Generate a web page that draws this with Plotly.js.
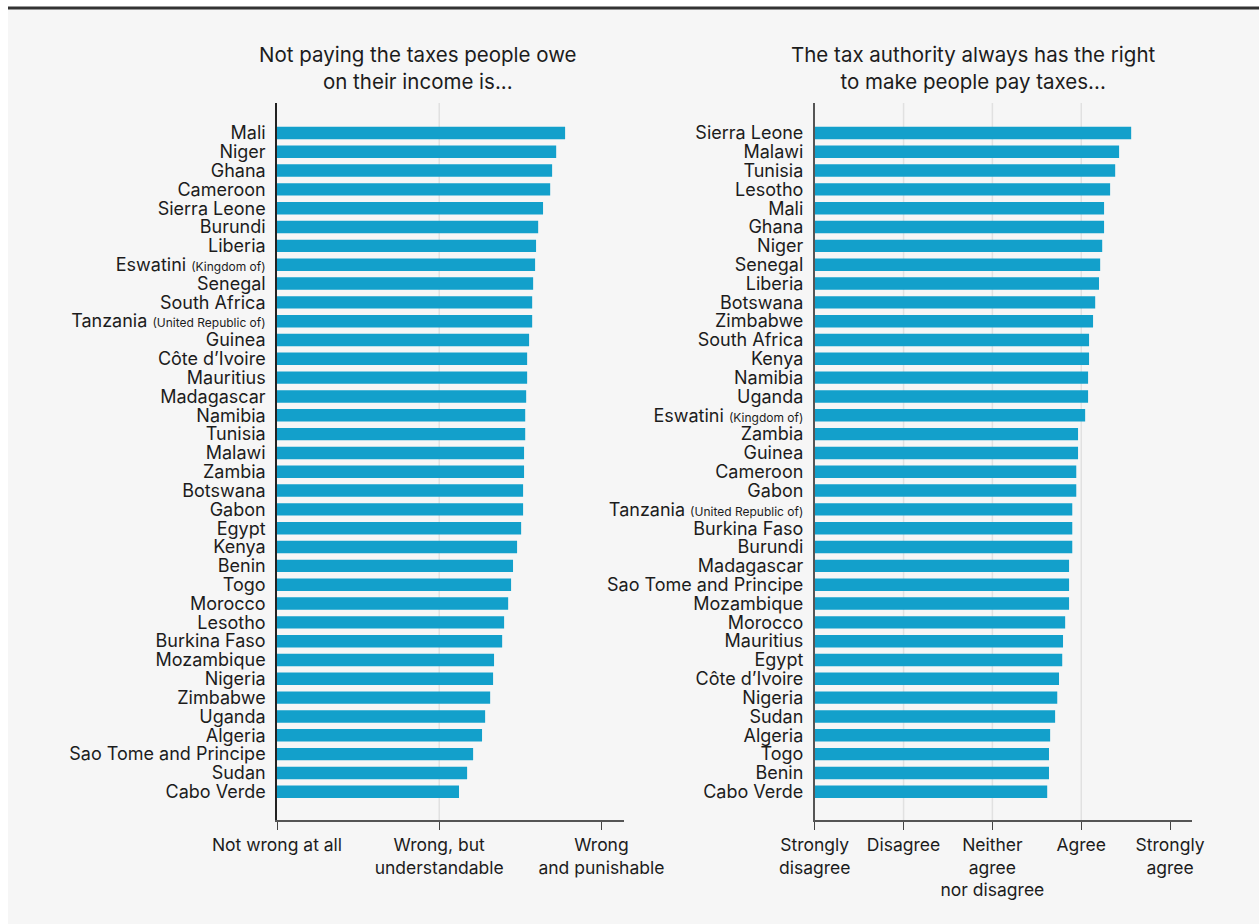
<!DOCTYPE html>
<html>
<head>
<meta charset="utf-8">
<script src="https://cdn.plot.ly/plotly-3.0.1.min.js"></script>
<style>
  html, body { margin: 0; padding: 0; background: #ffffff; }
  #chart { width: 1259px; height: 924px; }
</style>
</head>
<body>
<div id="chart"></div>
<script>
// ---- Data ----
const leftCountries = ["Mali","Niger","Ghana","Cameroon","Sierra Leone","Burundi","Liberia","Eswatini (Kingdom of)","Senegal","South Africa","Tanzania (United Republic of)","Guinea","Côte d’Ivoire","Mauritius","Madagascar","Namibia","Tunisia","Malawi","Zambia","Botswana","Gabon","Egypt","Kenya","Benin","Togo","Morocco","Lesotho","Burkina Faso","Mozambique","Nigeria","Zimbabwe","Uganda","Algeria","Sao Tome and Principe","Sudan","Cabo Verde"];
const leftValues = [1.776,1.721,1.696,1.684,1.640,1.610,1.597,1.591,1.579,1.573,1.573,1.554,1.542,1.542,1.536,1.530,1.530,1.523,1.523,1.517,1.517,1.505,1.480,1.455,1.443,1.425,1.400,1.388,1.338,1.332,1.314,1.283,1.264,1.209,1.172,1.122];

const rightCountries = ["Sierra Leone","Malawi","Tunisia","Lesotho","Mali","Ghana","Niger","Senegal","Liberia","Botswana","Zimbabwe","South Africa","Kenya","Namibia","Uganda","Eswatini (Kingdom of)","Zambia","Guinea","Cameroon","Gabon","Tanzania (United Republic of)","Burkina Faso","Burundi","Madagascar","Sao Tome and Principe","Mozambique","Morocco","Mauritius","Egypt","Côte d’Ivoire","Nigeria","Sudan","Algeria","Togo","Benin","Cabo Verde"];
const rightValues = [4.562,4.426,4.382,4.325,4.257,4.257,4.236,4.213,4.200,4.157,4.133,4.088,4.088,4.077,4.077,4.044,3.964,3.964,3.944,3.944,3.899,3.899,3.899,3.863,3.863,3.863,3.819,3.795,3.786,3.750,3.730,3.706,3.650,3.637,3.637,3.617];

const leftTickVals = [0, 1, 2];
const leftTickText = ["Not wrong at all", "Wrong, but<br>understandable", "Wrong<br>and punishable"];
const rightTickVals = [1, 2, 3, 4, 5];
const rightTickText = ["Strongly<br>disagree", "Disagree", "Neither<br>agree<br>nor disagree", "Agree", "Strongly<br>agree"];

const leftTitle = "Not paying the taxes people owe<br>on their income is...";
const rightTitle = "The tax authority always has the right<br>to make people pay taxes...";

// ---- Helpers ----
function labelHTML(name) {
  const m = name.match(/^(.*?) (\(.*\))$/);
  if (m) return m[1] + ' <span style="font-size:12px">' + m[2] + '</span>';
  return name;
}

const W = 1259, H = 924;
const T = 103, B = 104;
const plotH = H - T - B;
function py(p) { return (H - B - p) / plotH; }
function px(p) { return p / W; }

const barColor = "#13a0cb";
const textColor = "#1c1c1c";
const font = "Inter, Lato, sans-serif";

const traces = [
  {
    type: "bar", orientation: "h",
    x: leftValues, y: leftCountries,
    xaxis: "x", yaxis: "y",
    marker: { color: barColor },
    hoverinfo: "x+y"
  },
  {
    type: "bar", orientation: "h",
    x: rightValues, y: rightCountries,
    xaxis: "x2", yaxis: "y2",
    marker: { color: barColor },
    hoverinfo: "x+y"
  }
];

const yRange = [36.5, -1.59];

const layout = {
  width: W, height: H,
  margin: { l: 0, r: 0, t: T, b: B, pad: 0 },
  paper_bgcolor: "#f6f6f6",
  plot_bgcolor: "rgba(0,0,0,0)",
  showlegend: false,
  bargap: 0.34,
  font: { family: font, color: textColor, size: 17 },
  xaxis: {
    domain: [px(277), px(623.5)],
    range: [0, 2.136],
    tickmode: "array", tickvals: leftTickVals, ticktext: leftTickText,
    tickangle: 0,
    ticks: "outside", ticklen: 8, tickcolor: "#444", tickwidth: 1,
    showline: true, linecolor: "#555", linewidth: 1.5,
    showgrid: false, zeroline: false,
    tickfont: { size: 17.5, family: font, color: textColor },
    fixedrange: true
  },
  yaxis: {
    domain: [0, 1],
    type: "category",
    categoryorder: "array", categoryarray: leftCountries,
    range: yRange,
    tickmode: "array", tickvals: leftCountries, ticktext: leftCountries.map(labelHTML),
    ticks: "", showline: true, linecolor: "#222", linewidth: 1.5,
    showgrid: false, zeroline: false,
    ticklabelstandoff: 6,
    tickfont: { size: 18, family: font, color: textColor },
    fixedrange: true
  },
  xaxis2: {
    domain: [px(814.7), px(1192.3)],
    range: [1, 5.25],
    anchor: "y2",
    tickmode: "array", tickvals: rightTickVals, ticktext: rightTickText,
    tickangle: 0,
    ticks: "outside", ticklen: 8, tickcolor: "#444", tickwidth: 1,
    showline: true, linecolor: "#555", linewidth: 1.5,
    showgrid: false, zeroline: false,
    tickfont: { size: 17.5, family: font, color: textColor },
    fixedrange: true
  },
  yaxis2: {
    domain: [0, 1],
    anchor: "x2",
    type: "category",
    categoryorder: "array", categoryarray: rightCountries,
    range: yRange,
    tickmode: "array", tickvals: rightCountries, ticktext: rightCountries.map(labelHTML),
    ticks: "", showline: true, linecolor: "#555", linewidth: 1.5,
    showgrid: false, zeroline: false,
    ticklabelstandoff: 6,
    tickfont: { size: 18, family: font, color: textColor },
    fixedrange: true
  },
  shapes: [
    { type: "rect", xref: "paper", yref: "paper", x0: -0.01, x1: 1.01, y0: py(8), y1: py(-5),
      fillcolor: "#ffffff", line: { width: 0 }, layer: "below" },
    { type: "rect", xref: "paper", yref: "paper", x0: -0.01, x1: px(8), y0: py(930), y1: py(-5),
      fillcolor: "#ffffff", line: { width: 0 }, layer: "below" },
    { type: "line", xref: "paper", yref: "paper", x0: px(8), x1: 1.01, y0: py(8), y1: py(8),
      line: { color: "#333333", width: 3 } },
    { type: "line", xref: "x", yref: "y domain", x0: 1, x1: 1, y0: 0, y1: 1,
      line: { color: "#e1e1e1", width: 1.5 }, layer: "below" },
    { type: "line", xref: "x2", yref: "y2 domain", x0: 2, x1: 2, y0: 0, y1: 1,
      line: { color: "#e1e1e1", width: 1.5 }, layer: "below" },
    { type: "line", xref: "x2", yref: "y2 domain", x0: 3, x1: 3, y0: 0, y1: 1,
      line: { color: "#e1e1e1", width: 1.5 }, layer: "below" },
    { type: "line", xref: "x2", yref: "y2 domain", x0: 4, x1: 4, y0: 0, y1: 1,
      line: { color: "#e1e1e1", width: 1.5 }, layer: "below" }
  ],
  annotations: [
    { xref: "paper", yref: "paper", x: px(418), y: py(68), xanchor: "center", yanchor: "middle",
      text: leftTitle, showarrow: false, align: "center",
      font: { size: 20.5, family: font, color: textColor } },
    { xref: "paper", yref: "paper", x: px(973), y: py(68), xanchor: "center", yanchor: "middle",
      text: rightTitle, showarrow: false, align: "center",
      font: { size: 20.5, family: font, color: textColor } }
  ]
};

Plotly.newPlot("chart", traces, layout, { displayModeBar: false, staticPlot: false });
</script>
</body>
</html>
